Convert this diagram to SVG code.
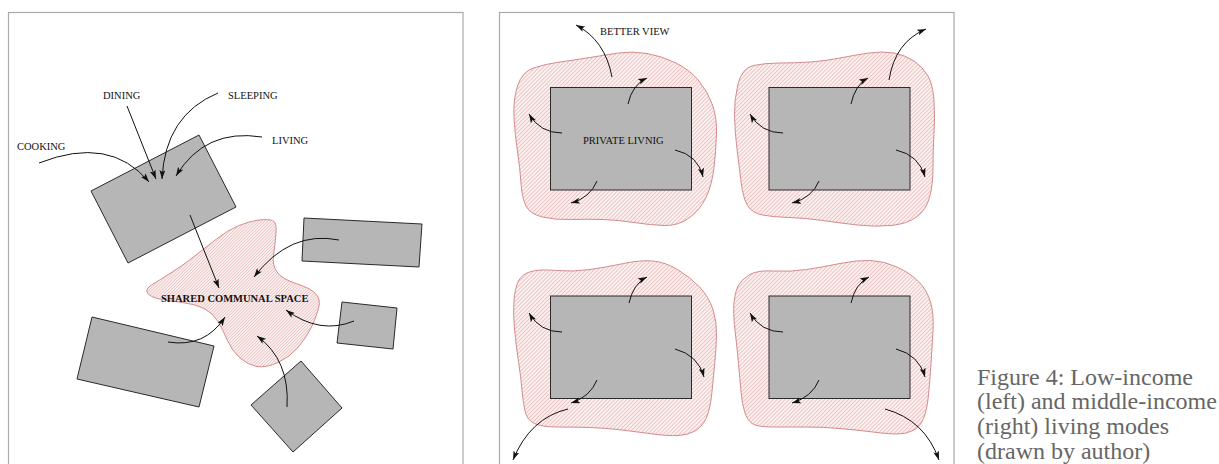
<svg xmlns="http://www.w3.org/2000/svg" width="1219" height="464" viewBox="0 0 1219 464">
<style>
.frame{fill:none;stroke:#aaaaaa;stroke-width:1.2}
.room{fill:#b5b6b5;stroke:#2a2a2a;stroke-width:1}
.blob{fill:url(#hatch);stroke:#d48c8c;stroke-width:1}
.blob2{fill:url(#hatch2);stroke:#d48c8c;stroke-width:1}
.arr{fill:none;stroke:#111;stroke-width:1;marker-end:url(#ah)}
.lbl{font-family:"Liberation Serif","Times New Roman",serif;font-size:10.5px;fill:#111}
.bold{font-weight:bold}
.cap{font-family:"Liberation Serif","Times New Roman",serif;font-size:24px;fill:#666666}
</style>
<defs>
<pattern id="hatch" patternUnits="userSpaceOnUse" width="2.8" height="2.8" patternTransform="rotate(45)">
<rect width="2.8" height="2.8" fill="#fcf3f3"/>
<line x1="0.5" y1="0" x2="0.5" y2="2.8" stroke="#e8aaaa" stroke-width="0.7"/>
</pattern>
<pattern id="hatch2" patternUnits="userSpaceOnUse" width="2.2" height="2.2" patternTransform="rotate(45)">
<rect width="2.2" height="2.2" fill="#fbf1f1"/>
<line x1="0.4" y1="0" x2="0.4" y2="2.2" stroke="#e4b4b4" stroke-width="0.6"/>
</pattern>
<marker id="ah" markerUnits="userSpaceOnUse" markerWidth="10" markerHeight="6" refX="9" refY="3" orient="auto">
<path d="M0,0 L9,3 L0,6 L2,3 Z" fill="#111"/>
</marker>
</defs>

<g id="frames">
<rect class="frame" x="8.5" y="12.5" width="454.5" height="470"/>
<rect class="frame" x="499.5" y="12.5" width="454.5" height="470"/>
</g>

<!-- Left panel -->
<g id="shared-space">
<path class="blob2" d="M259,220 Q268,219 272.5,220.5 Q277,222 276,233.5 Q275,245 273.5,255 Q272,265 277,272 Q282,279 296,283.5 Q310,288 315.5,293.5 Q321,299 318.5,308.5 Q316,318 311,328 Q306,338 298,347.5 Q290,357 278,362.5 Q266,368 257,366.5 Q248,365 240,358 Q232,351 227.5,340.5 Q223,330 218,321.5 Q213,313 204,308.5 Q195,304 182.5,302.5 Q170,301 160,299 Q150,297 147.5,293 Q145,289 151.5,285 Q158,281 170,273.5 Q182,266 193.5,257 Q205,248 216.5,239 Q228,230 239,225.5 Q250,221 259,220 Z"/>
<text class="lbl bold" x="161" y="302">SHARED COMMUNAL SPACE</text>
</g>
<g id="house-main"><polygon class="room" points="91,191 199,135 236,207 128,263"/></g>
<g id="house-top-right"><polygon class="room" points="304,218 422,224 419,267 302,261"/></g>
<g id="house-small-right"><polygon class="room" points="342,302 397,308 393,349 337,343"/></g>
<g id="house-bottom-left"><polygon class="room" points="92,317 214,346 199,407 77,379"/></g>
<g id="house-bottom"><polygon class="room" points="301,361 342,408 293,452 251,405"/></g>
<g id="labels-left">
<text class="lbl" x="103" y="99">DINING</text>
<text class="lbl" x="228" y="99">SLEEPING</text>
<text class="lbl" x="17" y="150">COOKING</text>
<text class="lbl" x="272" y="144">LIVING</text>
</g>

<!-- Right panel -->
<g id="unit-tl">
<path class="blob" d="M517.5,86 Q522,72 533.5,68 Q545,64 560,62 Q575,60 590,57.5 Q605,55 618.5,53 Q632,51 647,53.5 Q662,56 676,63 Q690,70 699,81 Q708,92 712.5,105 Q717,118 716.5,134 Q716,150 714,167.5 Q712,185 706,197.5 Q700,210 689,218 Q678,226 664,225.5 Q650,225 634,222.5 Q618,220 603,219.5 Q588,219 571.5,219.5 Q555,220 542.5,217 Q530,214 526,206 Q522,198 521,183 Q520,168 517.5,151.5 Q515,135 514,117.5 Q513,100 517.5,86 Z"/>
<rect class="room" x="550.5" y="87.5" width="141" height="102.5"/>
<text class="lbl" x="583" y="144">PRIVATE LIVNIG</text>
<text class="lbl" x="600" y="35">BETTER VIEW</text>
</g>
<g id="unit-tr">
<path class="blob" d="M738,84 Q742,68 753.5,65.5 Q765,63 780,63 Q795,63 810,62 Q825,61 840,58 Q855,55 869,53 Q883,51 894,53 Q905,55 914,61 Q923,67 928,76 Q933,85 934,101 Q935,117 934,133.5 Q933,150 933,167.5 Q933,185 929.5,197.5 Q926,210 916.5,217 Q907,224 891,225.5 Q875,227 857.5,225 Q840,223 822.5,220.5 Q805,218 789,217.5 Q773,217 762.5,215 Q752,213 747.5,205.5 Q743,198 741,181.5 Q739,165 737,149 Q735,133 734.5,116.5 Q734,100 738,84 Z"/>
<rect class="room" x="769" y="87.5" width="141" height="102.5"/>
</g>
<g id="unit-bl">
<path class="blob" d="M518.5,281 Q522,274 531,271.5 Q540,269 556.5,270.5 Q573,272 590,269.5 Q607,267 623.5,263.5 Q640,260 652.5,261 Q665,262 677.5,269.5 Q690,277 699.5,287 Q709,297 713,309.5 Q717,322 716.5,336 Q716,350 714.5,366 Q713,382 711.5,396 Q710,410 706,418.5 Q702,427 695,431 Q688,435 678,435.5 Q668,436 653,434 Q638,432 622,430 Q606,428 589.5,427.5 Q573,427 557.5,427 Q542,427 534.5,423.5 Q527,420 525,411 Q523,402 522,390 Q521,378 518.5,361.5 Q516,345 514.5,329 Q513,313 514,300.5 Q515,288 518.5,281 Z"/>
<rect class="room" x="550.5" y="296" width="141" height="102.5"/>
</g>
<g id="unit-br">
<path class="blob" d="M738,286 Q741,280 749,275 Q757,270 773.5,271 Q790,272 806.5,269.5 Q823,267 840,263.5 Q857,260 870.5,260.5 Q884,261 897,267 Q910,273 918.5,281.5 Q927,290 930.5,302 Q934,314 933,330.5 Q932,347 931,363.5 Q930,380 928.5,395 Q927,410 923.5,418.5 Q920,427 913,430.5 Q906,434 897.5,434 Q889,434 873,432 Q857,430 840,428.5 Q823,427 806.5,427 Q790,427 773.5,427 Q757,427 752,423.5 Q747,420 744.5,411.5 Q742,403 741,391.5 Q740,380 738.5,363.5 Q737,347 735,330 Q733,313 734,302.5 Q735,292 738,286 Z"/>
<rect class="room" x="769" y="296" width="141" height="102.5"/>
</g>

<g id="connectors">
<!-- left panel -->
<path class="arr" d="M39,163 Q110,135 149,182"/>
<path class="arr" d="M127,106 L156,179"/>
<path class="arr" d="M218,93 Q165,115 162,179"/>
<path class="arr" d="M262,137 Q205,128 176,176"/>
<path class="arr" d="M190,215 L219,288"/>
<path class="arr" d="M339,240 Q290,230 254,277"/>
<path class="arr" d="M354,321 Q320,335 286,310"/>
<path class="arr" d="M168,342 Q205,348 225,317"/>
<path class="arr" d="M287,407 Q290,360 257,336"/>
<!-- unit TL -->
<path class="arr" d="M612,77 Q605,40 576,25"/>
<path class="arr" d="M628,104 Q632,85 647,78"/>
<path class="arr" d="M562,133 Q540,133 529,114"/>
<path class="arr" d="M675,150 Q698,155 703,177"/>
<path class="arr" d="M597,181 Q590,198 571,203"/>
<!-- unit TR -->
<path class="arr" d="M889,80 Q895,42 926,29"/>
<path class="arr" d="M851,104 Q855,85 868,78"/>
<path class="arr" d="M783,133 Q761,133 750,114"/>
<path class="arr" d="M896,150 Q919,155 925,177"/>
<path class="arr" d="M819,181 Q812,198 792,203"/>
<!-- unit BL -->
<path class="arr" d="M629,303 Q633,284 647,277"/>
<path class="arr" d="M562,332 Q540,332 529,313"/>
<path class="arr" d="M675,349 Q698,355 704,377"/>
<path class="arr" d="M597,380 Q590,397 571,403"/>
<path class="arr" d="M568,409 Q530,418 513,460"/>
<!-- unit BR -->
<path class="arr" d="M851,303 Q855,284 869,277"/>
<path class="arr" d="M783,332 Q761,332 750,313"/>
<path class="arr" d="M896,349 Q919,355 925,377"/>
<path class="arr" d="M819,380 Q812,397 792,403"/>
<path class="arr" d="M885,409 Q925,420 939,460"/>
</g>

<g id="caption">
<text class="cap" x="977" y="385">Figure 4: Low-income</text>
<text class="cap" x="977" y="409">(left) and middle-income</text>
<text class="cap" x="977" y="434">(right) living modes</text>
<text class="cap" x="977" y="459">(drawn by author)</text>
</g>
</svg>
